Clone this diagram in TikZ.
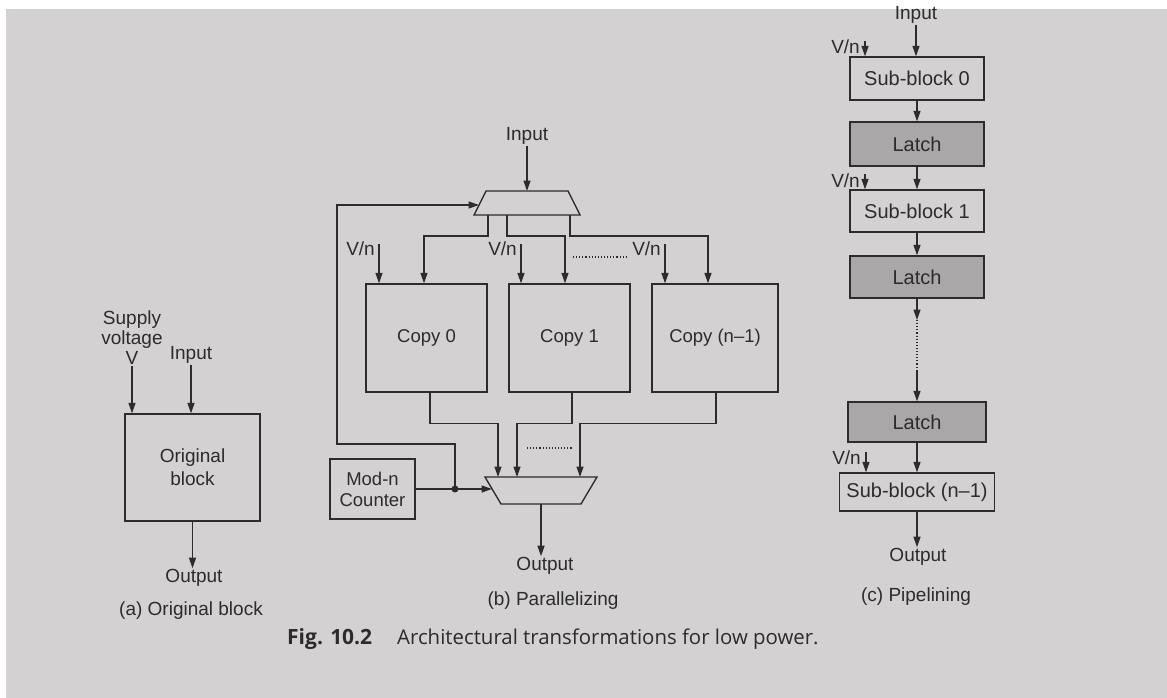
\documentclass[tikz,border=0pt]{standalone}
\usepackage{fontspec}
\setmainfont{Liberation Sans}
\newfontfamily\capfont{Open Sans}
\usetikzlibrary{arrows.meta,calc}
\definecolor{ink}{HTML}{2C2C2C}
\definecolor{pgin}{HTML}{D3D1D1}
\definecolor{pgout}{HTML}{A8A6A6}
\definecolor{latchfill}{HTML}{A9A7A7}
\pgfdeclareradialshading{pageshade}{\pgfpoint{0bp}{0bp}}{color(0bp)=(pgin); color(38bp)=(pgin); color(72bp)=(pgout); color(80bp)=(pgout)}
\tikzset{
  wire/.style={draw=ink, line width=1.35pt},
  arr/.style={wire, -{Triangle[length=10.5pt,width=7pt]}},
  blockbox/.style={draw=ink, line width=1.35pt, inner sep=0pt, align=center, text=ink, font=\fontsize{19}{23}\selectfont},
  latchbox/.style={blockbox, fill=latchfill},
  lbl/.style={text=ink, inner sep=1pt, align=center, font=\fontsize{19}{21}\selectfont},
  dotline/.style={draw=ink, line width=1.1pt, dotted},
}
\begin{document}
\begin{tikzpicture}[x=1pt,y=-1pt]
\useasboundingbox (0,0) rectangle (1167,698);
\shade[shading=pageshade] (0,0) rectangle (1167,698);
\fill[white] (0,0) rectangle (1167,9);
\fill[white] (0,0) rectangle (6,698);

% ---------------- (a) ----------------
\node[blockbox, minimum width=135pt, minimum height=107pt] (orig) at (192.5,467.5) {Original\\block};
\node[lbl, font=\fontsize{19}{20}\selectfont] (supv) at (132,338) {Supply\\voltage\\V};
\node[lbl] (ina) at (191,355) {Input};
\node[lbl] (outa) at (194,578) {Output};
\node[lbl] (capa) at (191,611) {(a) Original block};
\draw[arr] (supv.south) -- (supv.south |- orig.north);
\draw[arr] (ina.south) -- (ina.south |- orig.north);
\draw[arr] (orig.south) -- (orig.south |- outa.north);

% ---------------- (b) ----------------
\node[lbl] (inb) at (527,136) {Input};
\coordinate (dmTL) at (486,191);
\coordinate (dmTR) at (568,191);
\coordinate (dmBR) at (580,215);
\coordinate (dmBL) at (474,215);
\coordinate (dmIn) at (527,191);
\coordinate (dmL) at (479,205);
\coordinate (dmO0) at (488,215);
\coordinate (dmO1) at (507,215);
\coordinate (dmO2) at (570,215);
\draw[wire] (dmTL) -- (dmTR) -- (dmBR) -- (dmBL) -- cycle;
\draw[arr] (inb.south) -- (dmIn);

\node[blockbox, minimum width=121pt, minimum height=108pt, font=\fontsize{18.5}{22}\selectfont] (c0) at (426.5,338) {Copy 0};
\node[blockbox, minimum width=121pt, minimum height=108pt, font=\fontsize{18.5}{22}\selectfont] (c1) at (569.5,338) {Copy 1};
\node[blockbox, minimum width=126pt, minimum height=108pt, font=\fontsize{18.5}{22}\selectfont] (cn) at (715,338) {Copy (n–1)};

\draw[arr] (dmO0) -- ++(0,21) -| ([xshift=-2.5pt]c0.north);
\draw[arr] (dmO1) -- ++(0,21) -| ([xshift=-4.5pt]c1.north);
\draw[arr] (dmO2) -- ++(0,21) -| ([xshift=-7pt]cn.north);

\coordinate (v0) at (379,244);
\coordinate (v1) at (521,244);
\coordinate (v2) at (665,244);
\node[lbl, anchor=east] (vn0) at (376,249) {V/n};
\node[lbl, anchor=east] (vn1) at (518,249) {V/n};
\node[lbl, anchor=east] (vn2) at (662,249) {V/n};
\draw[arr] (v0) -- (v0 |- c0.north);
\draw[arr] (v1) -- (v1 |- c1.north);
\draw[arr] (v2) -- (v2 |- cn.north);
\coordinate (dA) at (573,257);
\coordinate (dB) at (628,257);
\draw[dotline] (dA) -- (dB);

\coordinate (mxTL) at (485,477);
\coordinate (mxTR) at (597,477);
\coordinate (mxBR) at (581,504);
\coordinate (mxBL) at (501,504);
\coordinate (mxI0) at (498,477);
\coordinate (mxI1) at (517,477);
\coordinate (mxI2) at (580,477);
\coordinate (mxL) at (492,489);
\coordinate (mxOut) at (541,504);
\draw[wire] (mxTL) -- (mxTR) -- (mxBR) -- (mxBL) -- cycle;

\draw[arr] ([xshift=3.5pt]c0.south) -- ++(0,31) -| (mxI0);
\draw[arr] ([xshift=2.5pt]c1.south) -- ++(0,31) -| (mxI1);
\draw[arr] ([xshift=1pt]cn.south) -- ++(0,31) -| (mxI2);
\coordinate (dC) at (527,448);
\coordinate (dD) at (572,448);
\draw[dotline] (dC) -- (dD);

\node[blockbox, minimum width=85pt, minimum height=60pt, font=\fontsize{18.5}{21}\selectfont] (cnt) at (372.5,489) {Mod-n\\Counter};
\coordinate (jn) at (455,489);
\coordinate (fbC) at (337,205);
\draw[arr] (cnt.east) -- (mxL);
\draw[arr] (jn) -- ++(0,-45) -| (fbC) -- (dmL);
\fill[ink] (jn) circle (3.5pt);

\node[lbl] (outb) at (545,566) {Output};
\draw[arr] (mxOut) -- (mxOut |- outb.north);
\node[lbl] (capb) at (553,601) {(b) Parallelizing};

% ---------------- (c) ----------------
\node[lbl] (inc) at (916,15) {Input};
\node[blockbox, minimum width=134pt, minimum height=43pt, font=\fontsize{20}{23}\selectfont] (sub0) at (917,78.5) {Sub-block 0};
\node[latchbox, minimum width=134pt, minimum height=44pt, font=\fontsize{20}{23}\selectfont] (lat1) at (917,144) {Latch};
\node[blockbox, minimum width=134pt, minimum height=42pt, font=\fontsize{20}{23}\selectfont] (sub1) at (917,211) {Sub-block 1};
\node[latchbox, minimum width=134pt, minimum height=42pt, font=\fontsize{20}{23}\selectfont] (lat2) at (917,277) {Latch};
\node[latchbox, minimum width=138pt, minimum height=40pt, font=\fontsize{20}{23}\selectfont] (lat3) at (917,422) {Latch};
\node[blockbox, minimum width=155pt, minimum height=38pt, font=\fontsize{20}{23}\selectfont] (subn) at (917,492) {Sub-block (n–1)};
\node[lbl] (outc) at (918,557) {Output};
\node[lbl] (capc) at (916,597) {(c) Pipelining};

\draw[arr] (inc.south) -- (inc.south |- sub0.north);
\draw[arr] (sub0.south) -- (lat1.north);
\draw[arr] (lat1.south) -- (sub1.north);
\draw[arr] (sub1.south) -- (lat2.north);
\coordinate (pd1) at (917,320);
\coordinate (pd2) at (917,370);
\draw[arr] (lat2.south) -- (pd1);
\draw[dotline] (pd1) -- (pd2);
\draw[arr] (pd2) -- (lat3.north);
\draw[arr] (lat3.south) -- (subn.north);
\draw[arr] (subn.south) -- (subn.south |- outc.north);

\coordinate (w0) at (865,41);
\coordinate (w1) at (865,174);
\coordinate (w2) at (866,452);
\node[lbl, anchor=east] (wn0) at (861,47) {V/n};
\node[lbl, anchor=east] (wn1) at (861,181) {V/n};
\node[lbl, anchor=east] (wn2) at (862,458) {V/n};
\draw[arr] (w0) -- (w0 |- sub0.north);
\draw[arr] (w1) -- (w1 |- sub1.north);
\draw[arr] (w2) -- (w2 |- subn.north);

% ---------------- caption ----------------
\node[text=ink, anchor=base west, inner sep=0pt, font=\capfont\fontsize{21}{23}\selectfont] (fig) at (287,644) {\textbf{Fig. 10.2}};
\node[text=ink, anchor=base west, inner sep=0pt, font=\capfont\fontsize{20.4}{23}\selectfont] (figtext) at (397,644) {Architectural transformations for low power.};
\end{tikzpicture}
\end{document}
